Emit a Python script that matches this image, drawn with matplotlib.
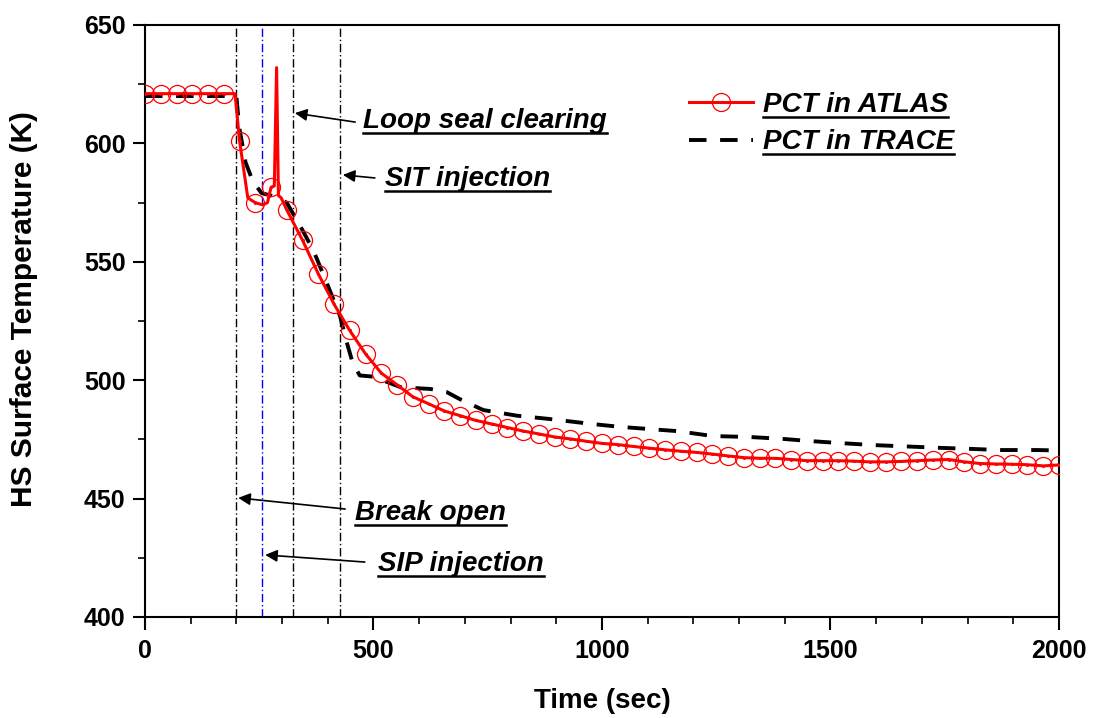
import matplotlib
matplotlib.use("Agg")
import matplotlib.pyplot as plt
from matplotlib.lines import Line2D
from matplotlib.legend_handler import HandlerTuple

# --- data ---
# ATLAS peak cladding temperature (line incl. the spike near 290 s)
atlas_time = [0, 34, 69, 103, 138, 172, 197, 207, 225, 241, 258, 268, 276, 283, 288, 292,
              298, 310, 345, 379, 414, 448, 483, 517, 552, 586, 621, 655, 690, 724, 759,
              793, 828, 862, 897, 931, 966, 1000, 1034, 1069, 1103, 1138, 1172, 1207,
              1241, 1276, 1310, 1345, 1379, 1414, 1448, 1483, 1517, 1552, 1586, 1621,
              1655, 1690, 1724, 1759, 1793, 1828, 1862, 1897, 1931, 1966, 2000]
atlas_temp = [621, 621, 621, 621, 621, 621, 621, 601, 577, 575, 574, 575, 581.5, 582, 632, 578,
              577, 572, 559, 545, 532, 521, 511, 503, 498, 493, 490, 487, 485, 483, 481.5,
              480, 478.5, 477.3, 476, 475.2, 474.2, 473.3, 472.8, 472, 471.3, 470.6, 470,
              469.5, 468.8, 468, 467.3, 467, 467, 466.5, 466, 466, 466, 465.8, 465.5,
              465.5, 465.7, 466, 466.3, 466.5, 465.5, 464.8, 464.6, 464.5, 464.3, 463.8, 464.2]
# points of the ATLAS line that carry a circle symbol
atlas_marker_time = [0, 34, 69, 103, 138, 172, 207, 241, 276, 310, 345, 379, 414, 448, 483,
                     517, 552, 586, 621, 655, 690, 724, 759, 793, 828, 862, 897, 931, 966,
                     1000, 1034, 1069, 1103, 1138, 1172, 1207, 1241, 1276, 1310, 1345, 1379,
                     1414, 1448, 1483, 1517, 1552, 1586, 1621, 1655, 1690, 1724, 1759, 1793,
                     1828, 1862, 1897, 1931, 1966, 2000]

# TRACE calculation
trace_time = [0, 200, 206, 220, 236, 255, 275, 310, 340, 368, 398, 427, 440, 455, 470, 499,
              560, 624, 660, 689, 740, 814, 886, 978, 1039, 1101, 1164, 1243, 1324, 1396,
              1455, 1516, 1593, 1681, 1744, 1805, 1871, 1952, 2000]
trace_temp = [620, 620, 607, 592, 584, 579, 578, 575, 565, 555, 541, 527, 517, 507, 502, 501.5,
              497, 496.3, 495, 492, 487.4, 485, 483.6, 481.5, 480.3, 479.4, 478.5, 476.4, 476,
              475.2, 474.3, 473.5, 472.6, 471.9, 471.4, 471, 470.5, 470.5, 470.3]

# event times (s)
event_labels = ["Break open", "SIP injection", "Loop seal clearing", "SIT injection"]
event_times = [200, 256, 324, 427]
event_colors = ["black", "blue", "black", "black"]

plt.rcParams['font.family'] = ['Liberation Sans', 'DejaVu Sans']

fig = plt.figure(figsize=(10.95, 7.18), dpi=100)
ax = fig.add_axes([0.1324, 0.1407, 0.8347, 0.8245])

RED = "#ff0000"
DASH = (0, (4.5, 3.5))

for t, c in zip(event_times, event_colors):
    ax.axvline(t, color=c, lw=1.0, ls=(0, (6, 2, 1, 2)), zorder=1)

ax.plot(trace_time, trace_temp, color="black", lw=2.8, ls=DASH, zorder=3)

marker_idx = [atlas_time.index(t) for t in atlas_marker_time]
line_atlas, = ax.plot(atlas_time, atlas_temp, color=RED, lw=2.2, marker="o", ms=13,
                      mfc="none", mec=RED, mew=0.9, markevery=marker_idx, zorder=4)
dots, = ax.plot(atlas_time, atlas_temp, ls="none", marker="o", ms=1.2, color=RED,
                markevery=marker_idx, zorder=5)

ax.set_xlim(0, 2000)
ax.set_ylim(400, 650)
ax.set_xticks([0, 500, 1000, 1500, 2000])
ax.set_xticks(range(0, 2001, 100), minor=True)
ax.set_yticks([400, 450, 500, 550, 600, 650])
ax.set_yticks(range(400, 651, 25), minor=True)
ax.tick_params(which="major", direction="out", length=9, width=1.5, labelsize=18)
ax.tick_params(axis="x", which="major", pad=7)
ax.tick_params(axis="y", which="major", pad=5)
ax.tick_params(which="minor", direction="out", length=5, width=1.2)
for lab in ax.get_xticklabels() + ax.get_yticklabels():
    lab.set_fontweight("bold")
for sp in ax.spines.values():
    sp.set_linewidth(1.5)

ax.set_xlabel("Time (sec)", fontsize=20, fontweight="bold")
ax.set_ylabel("HS Surface Temperature (K)", fontsize=21.5, fontweight="bold")
ax.xaxis.set_label_coords(0.5, -0.12)
ax.yaxis.set_label_coords(-0.117, 0.52)

# annotations: (label, text x, text y, arrow tail, arrow head)
notes = [
    ("Loop seal clearing", 477, 609.5, (460, 609), (328, 612.8)),
    ("SIT injection", 525, 585, (503, 585.4), (433, 586.7)),
    ("Break open", 460, 443.8, (438, 445.6), (204, 450.3)),
    ("SIP injection", 510, 422.3, (481, 423.2), (263, 426.2)),
]
underline_texts = []
for label, tx, ty, tail, head in notes:
    txt = ax.text(tx, ty, label, fontsize=20, fontweight="bold", fontstyle="italic",
                  ha="left", va="center", zorder=6)
    underline_texts.append(txt)
    ax.annotate("", xy=head, xytext=tail,
                arrowprops=dict(arrowstyle="-|>", color="black", lw=1.2,
                                mutation_scale=18, shrinkA=0, shrinkB=0))

handle_atlas = (line_atlas, dots)
leg = ax.legend([handle_atlas, Line2D([], [], color="black", lw=2.8, ls=DASH)],
                ["PCT in ATLAS", "PCT in TRACE"],
                handler_map={tuple: HandlerTuple(ndivide=1, pad=0)},
                loc="upper left", bbox_to_anchor=(0.574, 0.92), frameon=False,
                prop=dict(size=20, weight="bold", style="italic"),
                handlelength=2.3, handletextpad=0.35, labelspacing=0.42, numpoints=1,
                borderpad=0.2)
underline_texts += leg.get_texts()

# underline the bold italic labels (as in the original figure)
fig.canvas.draw()
renderer = fig.canvas.get_renderer()
W, H = fig.bbox.width, fig.bbox.height
for txt in underline_texts:
    bb = txt.get_window_extent(renderer)
    y = bb.y0 + 1
    fig.add_artist(Line2D([bb.x0 / W, bb.x1 / W], [y / H, y / H], transform=fig.transFigure,
                          color="black", lw=1.8))

fig.savefig("out.png", dpi=100)
